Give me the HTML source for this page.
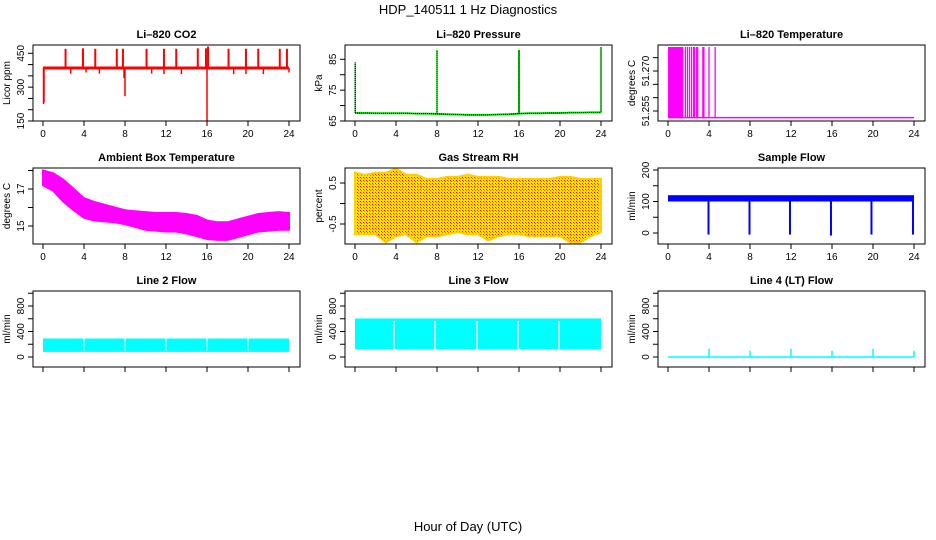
<!DOCTYPE html>
<html><head><meta charset="utf-8"><style>
html,body{margin:0;padding:0;background:#fff}
svg{display:block;font-family:"Liberation Sans",sans-serif}
</style></head><body>
<svg id="c" width="936" height="540" viewBox="0 0 936 540">
<text x="468" y="14" text-anchor="middle" font-size="13">HDP_140511  1 Hz Diagnostics</text>
<text x="468" y="531" text-anchor="middle" font-size="13">Hour of Day (UTC)</text>
</svg>
<script>
// ---- data ----
const hourTicks = [0,4,8,12,16,20,24];
const hoursHourly = [0,1,2,3,4,5,6,7,8,9,10,11,12,13,14,15,16,17,18,19,20,21,22,23,24];
// CO2
const co2Base = 385;
const co2UpHours = [2.2,3.9,5.1,7.2,7.8,10.1,11.8,13.0,15.1,15.9,16.1,18.1,19.8,21.0,23.1,23.8];
const co2UpValues = [470,472,470,470,470,470,470,470,472,472,480,470,470,470,470,470];
const co2DownHours = [0.05,0.1,2.7,4.2,5.5,7.9,8.0,10.6,11.8,13.5,16.0,18.6,19.8,21.5,24.0];
const co2DownValues = [225,232,360,365,360,340,260,360,358,358,150,358,358,358,365];
// Pressure
const presBase = [67.6,67.6,67.5,67.5,67.5,67.5,67.4,67.4,67.3,67.2,67.1,67.0,67.0,67.0,67.1,67.2,67.4,67.5,67.5,67.6,67.6,67.7,67.7,67.8,67.8];
const presSpikeHours = [0.02,8.0,16.0,24.0];
const presSpikeValues = [84,88,88,89];
// Li-820 temperature
const tempBase = 51.2525;
const tempTop = 51.279;
const tempBlockEnd = 1.5;
const tempLineHours = [1.7,1.9,2.1,2.3,2.5,2.6,2.8,2.9,3.4,3.5,4.0,4.6];
// Ambient box temperature
const ambHigh = [18.0,17.85,17.5,17.0,16.5,16.3,16.15,16.0,15.85,15.8,15.75,15.7,15.7,15.7,15.65,15.55,15.3,15.2,15.2,15.35,15.5,15.65,15.7,15.75,15.7];
const ambLow = [17.2,16.9,16.3,15.85,15.45,15.3,15.25,15.2,15.1,14.95,14.8,14.75,14.7,14.7,14.6,14.45,14.3,14.25,14.25,14.4,14.55,14.7,14.75,14.8,14.8];
// Gas stream RH
const rhHigh = [0.75,0.7,0.75,0.75,0.85,0.7,0.7,0.6,0.6,0.65,0.65,0.7,0.65,0.65,0.65,0.6,0.6,0.6,0.6,0.6,0.65,0.65,0.6,0.6,0.6];
const rhLow = [-0.75,-0.75,-0.75,-0.95,-0.8,-0.75,-0.95,-0.8,-0.8,-0.75,-0.7,-0.75,-0.75,-0.9,-0.8,-0.75,-0.75,-0.8,-0.8,-0.8,-0.8,-0.95,-0.95,-0.8,-0.7];
// Sample flow
const sfHigh = 120, sfLow = 100;
const sfDipHours = [3.95,7.95,11.9,15.9,19.85,23.9];
const sfDipValues = [-5,-5,-5,-8,-5,-5];
// Line flows
const l2High = 290, l2Low = 80;
const l2GapHours = [4,8,12,16,20];
const l3High = 605, l3Low = 120;
const l3GapHours = [3.8,7.8,11.9,15.9,19.9];
const l4SpikeHours = [4,8,12,16,20,24];
const l4SpikeValues = [130,100,130,100,130,100];

// ---- layout ----
const svg = document.getElementById('c');
const NS = 'http://www.w3.org/2000/svg';
function mk(tag, attrs, parent){const e=document.createElementNS(NS,tag);for(const k in attrs)e.setAttribute(k,attrs[k]);(parent||svg).appendChild(e);return e;}
const colL=[33,345,658], rowT=[45,168,291], W=267, H=76;

function panel(col,row,title,ylab,v1,p1,v2,p2,ticks,labels,name){
  const L=colL[col], T=rowT[row];
  const g=mk('g',{});
  
  
  const xs=h=>L+10+h*(246/24);
  const ys=v=>p1+(v-v1)*(p2-p1)/(v2-v1);
  const t=mk('text',{x:L+W/2,y:T-7,'text-anchor':'middle','font-size':'11','font-weight':'bold'},g);
  t.textContent=title;
  
  
  const plot=mk('g',{},g);
  
  
  const cp='clip'+col+row;
  const cl=mk('clipPath',{id:cp},g);mk('rect',{x:L,y:T,width:W,height:H},cl);
  plot.setAttribute('clip-path','url(#'+cp+')');
  const box=mk('rect',{x:L,y:T,width:W,height:H,fill:'none',stroke:'#000','stroke-width':1},g);
  
  
  hourTicks.forEach(h=>{
    mk('line',{x1:xs(h),x2:xs(h),y1:T+H,y2:T+H+5,stroke:'#000'},g);
    if(row<2){const tx=mk('text',{x:xs(h),y:T+H+16,'text-anchor':'middle','font-size':'10'},g);
    tx.textContent=h;
    
    }
  });
  ticks.forEach(v=>{
    const y=ys(v);
    mk('line',{x1:L,x2:L-5,y1:y,y2:y,stroke:'#000'},g);
  });
  labels.forEach(v=>{
    const y=ys(v);
    const tx=mk('text',{x:0,y:0,'text-anchor':'middle','font-size':'10',transform:`translate(${L-9},${y}) rotate(-90)`},g);
    tx.textContent=v;
    
    
  });
  const yl=mk('text',{x:0,y:0,'text-anchor':'middle','font-size':'10',transform:`translate(${L-23},${T+H/2}) rotate(-90)`},g);
  yl.textContent=ylab;
  
  
  return {xs,ys,g:plot};
}
function band(p,hi,lo,fill){
  let d='M'+hoursHourly.map((h,i)=>p.xs(h)+','+p.ys(hi[i])).join(' L');
  for(let i=hoursHourly.length-1;i>=0;i--) d+=' L'+p.xs(hoursHourly[i])+','+p.ys(lo[i]);
  return mk('path',{d:d+'Z',fill,stroke:fill,'stroke-width':2},p.g);
}
function vline(p,h,a,b,color,w,extra){
  return mk('line',Object.assign({x1:p.xs(h),x2:p.xs(h),y1:p.ys(a),y2:p.ys(b),stroke:color,'stroke-width':w||1},extra||{}),p.g);
}

// CO2
let p=panel(0,0,'Li\u2013820 CO2','Licor ppm',450,53.3,150,121,[150,200,250,300,350,400,450],[150,300,450],'co2');
mk('line',{x1:p.xs(0),x2:p.xs(24),y1:p.ys(co2Base),y2:p.ys(co2Base),stroke:'#f00','stroke-width':3},p.g);
co2UpHours.forEach((h,i)=>vline(p,h,co2Base,co2UpValues[i],'#f00',2));
co2DownHours.forEach((h,i)=>vline(p,h,co2Base,co2DownValues[i],'#f00',1.5));

// Pressure
p=panel(1,0,'Li\u2013820 Pressure','kPa',85,59.3,65,121,[65,70,75,80,85],[65,75,85],'pressure');
mk('polyline',{points:hoursHourly.map((h,i)=>p.xs(h)+','+p.ys(presBase[i])).join(' '),fill:'none',stroke:'#00e000','stroke-width':2},p.g);
mk('polyline',{points:hoursHourly.map((h,i)=>p.xs(h)+','+p.ys(presBase[i])).join(' '),fill:'none',stroke:'#000','stroke-width':1,'stroke-dasharray':'1,1'},p.g);
presSpikeHours.forEach((h,i)=>{vline(p,h,presBase[Math.round(h)],presSpikeValues[i],'#00e000',i===2?2:1.5);vline(p,h,presBase[Math.round(h)],presSpikeValues[i],'#000',1,{'stroke-dasharray':'1,1'});});

// Li-820 temperature
p=panel(2,0,'Li\u2013820 Temperature','degrees C',51.270,71,51.255,111,[51.255,51.260,51.265,51.270,51.275],['51.255','51.270'],'li820-temp');
mk('rect',{x:p.xs(0),y:p.ys(tempTop),width:p.xs(tempBlockEnd)-p.xs(0),height:p.ys(tempBase)-p.ys(tempTop),fill:'#f0f'},p.g);
tempLineHours.forEach(h=>vline(p,h,tempBase,tempTop,'#f0f',1.3));
mk('line',{x1:p.xs(0),x2:p.xs(24),y1:p.ys(tempBase),y2:p.ys(tempBase),stroke:'#f0f','stroke-width':1.5},p.g);

// Ambient
p=panel(0,1,'Ambient Box Temperature','degrees C',17,189,15,226,[15,16,17,18],[15,17],'ambient-temp');
band(p,ambHigh,ambLow,'#f0f');

// RH
p=panel(1,1,'Gas Stream RH','percent',0.5,183,-0.5,224,[-0.5,0,0.5],['-0.5','0.5'],'rh');
const pat=mk('pattern',{id:'rhp',width:3,height:3,patternUnits:'userSpaceOnUse'},svg);
mk('rect',{width:3,height:3,fill:'#ffe000'},pat);mk('rect',{width:1,height:1,fill:'#f00'},pat);mk('rect',{x:1,y:1,width:1,height:1,fill:'#ff6000'},pat);
band(p,rhHigh,rhLow,'url(#rhp)').setAttribute('stroke','#ffd000');

// Sample flow
p=panel(2,1,'Sample Flow','ml/min',0,233,200,170,[0,50,100,150,200],[0,100,200],'sample-flow');
mk('rect',{x:p.xs(0),y:p.ys(sfHigh),width:p.xs(24)-p.xs(0),height:p.ys(sfLow)-p.ys(sfHigh),fill:'#00f'},p.g);
sfDipHours.forEach((h,i)=>vline(p,h,sfLow,sfDipValues[i],'#00f',2));

// Line flows
const flowTicks=[0,200,400,600,800,1000], flowLabels=[0,400,800];
p=panel(0,2,'Line 2 Flow','ml/min',0,357,800,306,flowTicks,flowLabels,'line2-flow');
mk('rect',{x:p.xs(0),y:p.ys(l2High),width:p.xs(24)-p.xs(0),height:p.ys(l2Low)-p.ys(l2High),fill:'#0ff'},p.g);
l2GapHours.forEach(h=>vline(p,h,l2Low+20,l2High,'#fff',1));
p=panel(1,2,'Line 3 Flow','ml/min',0,357,800,306,flowTicks,flowLabels,'line3-flow');
mk('rect',{x:p.xs(0),y:p.ys(l3High),width:p.xs(24)-p.xs(0),height:p.ys(l3Low)-p.ys(l3High),fill:'#0ff'},p.g);
l3GapHours.forEach(h=>vline(p,h,l3Low,l3High-40,'#fff',1.5));
p=panel(2,2,'Line 4 (LT) Flow','ml/min',0,357,800,306,flowTicks,flowLabels,'line4-flow');
mk('line',{x1:p.xs(0),x2:p.xs(24),y1:p.ys(0),y2:p.ys(0),stroke:'#0ff','stroke-width':1.5},p.g);
l4SpikeHours.forEach((h,i)=>vline(p,h,0,l4SpikeValues[i],'#0ff',1.5));
</script>
</body></html>
